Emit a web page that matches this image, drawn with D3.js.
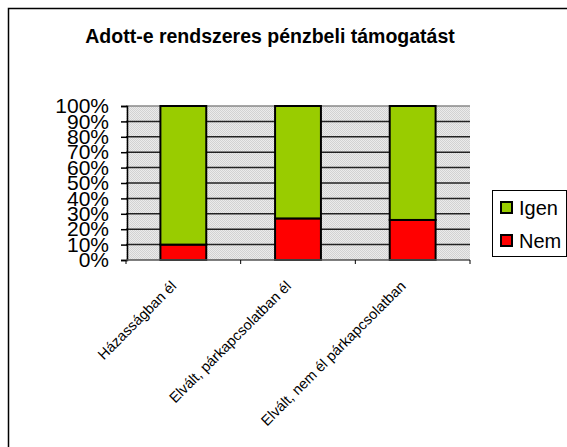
<!DOCTYPE html>
<html>
<head>
<meta charset="utf-8">
<script src="https://cdn.jsdelivr.net/npm/d3@7"></script>
<style>
  body { margin: 0; background: #fff; }
  svg { display: block; font-family: "Liberation Sans", Arial, sans-serif; }
</style>
</head>
<body>
<svg id="chart" width="567" height="447"></svg>
<script>
// data
const categories = ["Házasságban él", "Elvált, párkapcsolatban él", "Elvált, nem él párkapcsolatban"];
const nemValues = [10, 27, 26];
const igenValues = [90, 73, 74];
const seriesNames = ["Nem", "Igen"];
const seriesColors = ["#ff0000", "#99cc00"];
const yTicks = [0, 10, 20, 30, 40, 50, 60, 70, 80, 90, 100];

const svg = d3.select('#chart');

// outer chart frame (runs off the right and bottom edges)
svg.append('rect')
    .attr('x', 8.5).attr('y', 8.5)
    .attr('width', 600).attr('height', 500)
    .attr('fill', '#fff')
    .attr('stroke', '#000')
    .attr('stroke-width', 1.5);

// title
svg.append('text')
    .attr('x', 270)
    .attr('y', 43)
    .attr('text-anchor', 'middle')
    .attr('font-size', '19.5px')
    .attr('font-weight', 'bold')
    .text('Adott-e rendszeres pénzbeli támogatást');

const plot = { left: 126, top: 106, right: 470, bottom: 260 };

const x = d3.scaleBand()
    .domain(categories)
    .range([plot.left, plot.right])
    .paddingInner(0.6)
    .paddingOuter(0.3);

const xBand = d3.scaleBand()
    .domain(categories)
    .range([plot.left, plot.right]);

const y = d3.scaleLinear()
    .domain([0, 100])
    .range([plot.bottom, plot.top]);

// dotted grey plot background
const defs = svg.append('defs');
const pat = defs.append('pattern')
    .attr('id', 'bgpat')
    .attr('width', 2).attr('height', 2)
    .attr('patternUnits', 'userSpaceOnUse');
pat.append('rect').attr('width', 2).attr('height', 2).attr('fill', '#ebebeb');
pat.append('rect').attr('width', 1).attr('height', 1).attr('fill', '#d2d2d2');
pat.append('rect').attr('x', 1).attr('y', 1).attr('width', 1).attr('height', 1).attr('fill', '#d2d2d2');

svg.append('rect')
    .attr('x', plot.left).attr('y', plot.top)
    .attr('width', plot.right - plot.left)
    .attr('height', plot.bottom - plot.top)
    .attr('fill', 'url(#bgpat)');

// gridlines
svg.append('g')
    .selectAll('line')
    .data(yTicks.slice(1))
    .join('line')
    .attr('x1', plot.left).attr('x2', plot.right)
    .attr('y1', d => y(d)).attr('y2', d => y(d))
    .attr('stroke', d => d === 100 ? '#888' : '#222')
    .attr('stroke-width', 1.5);

// stacked bars
const rows = categories.map((c, i) => ({ cat: c, Nem: nemValues[i], Igen: igenValues[i] }));
const stack = d3.stack().keys(seriesNames)(rows);

svg.append('g')
    .selectAll('g')
    .data(stack)
    .join('g')
    .attr('fill', (d, i) => seriesColors[i])
    .selectAll('rect')
    .data(d => d)
    .join('rect')
    .attr('x', d => x(d.data.cat))
    .attr('width', x.bandwidth())
    .attr('y', d => y(d[1]))
    .attr('height', d => y(d[0]) - y(d[1]))
    .attr('stroke', '#000')
    .attr('stroke-width', 2);

// y axis
const yAxis = svg.append('g')
    .attr('transform', `translate(${plot.left + 1},0)`)
    .call(d3.axisLeft(y).tickValues(yTicks).tickSize(6).tickPadding(12).tickFormat(d => d + '%'));
yAxis.select('.domain').attr('stroke', '#000').attr('stroke-width', 1.5);
yAxis.selectAll('.tick line').attr('stroke', '#000').attr('stroke-width', 1.5);
yAxis.selectAll('text')
    .attr('font-size', '21px')
    .attr('font-family', '"Liberation Sans", Arial, sans-serif')
    .attr('fill', '#000');

// x axis baseline and boundary ticks
svg.append('line')
    .attr('x1', plot.left).attr('x2', plot.right)
    .attr('y1', plot.bottom).attr('y2', plot.bottom)
    .attr('stroke', '#555').attr('stroke-width', 1.5);

const boundaries = categories.map(c => xBand(c)).concat([plot.right]);
svg.append('g')
    .selectAll('line')
    .data(boundaries)
    .join('line')
    .attr('x1', d => d).attr('x2', d => d)
    .attr('y1', plot.bottom).attr('y2', plot.bottom + 4)
    .attr('stroke', '#000').attr('stroke-width', 1);

// rotated category labels
svg.append('g')
    .selectAll('text')
    .data(categories)
    .join('text')
    .attr('transform', d => `translate(${xBand(d) + xBand.bandwidth() / 2 - 6},${plot.bottom + 27}) rotate(-45)`)
    .attr('text-anchor', 'end')
    .attr('font-size', '14.5px')
    .text(d => d);

// legend
const legend = svg.append('g');
legend.append('rect')
    .attr('x', 492.5).attr('y', 190.5)
    .attr('width', 74).attr('height', 66)
    .attr('fill', '#fff')
    .attr('stroke', '#000')
    .attr('stroke-width', 1);

const legendItems = [
    { name: 'Igen', color: seriesColors[1] },
    { name: 'Nem', color: seriesColors[0] }
];
const li = legend.selectAll('g.item')
    .data(legendItems)
    .join('g')
    .attr('class', 'item')
    .attr('transform', (d, i) => `translate(0,${208 + i * 33})`);
li.append('rect')
    .attr('x', 501).attr('y', -6)
    .attr('width', 11).attr('height', 11)
    .attr('fill', d => d.color)
    .attr('stroke', '#000')
    .attr('stroke-width', 2);
li.append('text')
    .attr('x', 519)
    .attr('y', 0)
    .attr('dy', '0.36em')
    .attr('font-size', '20px')
    .text(d => d.name);
</script>
</body>
</html>
